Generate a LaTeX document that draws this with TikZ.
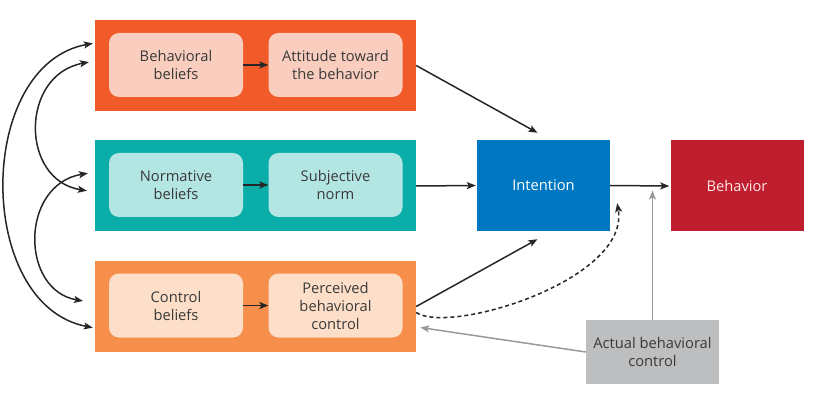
\documentclass[tikz,border=0pt]{standalone}
\usepackage{fontspec}
\setmainfont{Open Sans}
\usetikzlibrary{arrows.meta}

\definecolor{attouter}{HTML}{F15A29}
\definecolor{attinner}{HTML}{F9CEBF}
\definecolor{normouter}{HTML}{0AADA8}
\definecolor{norminner}{HTML}{B3E5E3}
\definecolor{ctrlouter}{HTML}{F68F4B}
\definecolor{ctrlinner}{HTML}{FDDEC8}
\definecolor{intentblue}{HTML}{0077C1}
\definecolor{behavred}{HTML}{BE1E2D}
\definecolor{actualgray}{HTML}{BCBEC0}
\definecolor{txtgray}{HTML}{3A3A3A}

\begin{document}
\begin{tikzpicture}[x=1pt, y=-1pt, >={Stealth[length=9pt,width=7pt,inset=2pt]}, font=\fontsize{14.7}{18}\selectfont]
        \tikzstyle{every node}=[inner sep=0pt, align=center, text=txtgray]
        \tikzstyle{outer}=[rectangle, minimum width=321pt, minimum height=91pt]
        \tikzstyle{inner}=[rectangle, rounded corners=10pt, minimum width=134pt, minimum height=64pt]
        \tikzstyle{target}=[rectangle, minimum width=133pt, minimum height=91pt, text=white]
        \tikzstyle{link}=[->, line width=1.5pt, draw=black!85]
        \tikzstyle{graylink}=[->, line width=1.5pt, draw=black!40]

        \useasboundingbox (0,0) rectangle (830,406);

% the three belief rows
        \node[outer, fill=attouter] (att) at (255.5,65.5) {};
        \node[inner, fill=attinner] (bbel) at (176,65) {Behavioral\\beliefs};
        \node[inner, fill=attinner] (attit) at (335.5,65) {Attitude toward\\the behavior};

        \node[outer, fill=normouter] (norm) at (255.5,186) {};
        \node[inner, fill=norminner] (nbel) at (176,185) {Normative\\beliefs};
        \node[inner, fill=norminner] (subj) at (335.5,185) {Subjective\\norm};

        \node[outer, fill=ctrlouter] (ctrl) at (255.5,306.5) {};
        \node[inner, fill=ctrlinner] (cbel) at (176,305.5) {Control\\beliefs};
        \node[inner, fill=ctrlinner] (pbc) at (335.5,305.5) {Perceived\\behavioral\\control};

% right hand side
        \node[target, fill=intentblue] (intent) at (543.5,185.5) {Intention};
        \node[target, fill=behavred, text=red!10] (behav) at (737,186) {Behavior};
        \node[rectangle, fill=actualgray, minimum width=133pt, minimum height=64pt] (actual) at (652.5,352) {Actual behavioral\\control};

        \draw[link] (bbel) -- (attit);
        \draw[link] (nbel) -- (subj);
        \draw[link] (cbel) -- (pbc);

        \draw[link] (att.east) -- ([xshift=-6pt,yshift=7pt]intent.north);
        \draw[link] (norm.east) -- ([xshift=-1pt]intent.west);
        \draw[link] (ctrl.east) -- ([xshift=-6pt,yshift=-8pt]intent.south);
        \draw[link] (intent.east) -- ([xshift=-1pt]behav.west);
        \draw[link, dash pattern=on 4pt off 3pt] ([yshift=-6pt]ctrl.east) .. controls (450,335) and (630,280) .. ([xshift=7pt,yshift=28pt]intent.south east);

        \coordinate (gtip) at (actual.north |- intent.east);
        \draw[graylink] (actual.north) -- ([yshift=-5pt]gtip);
        \draw[graylink] (actual.west) -- ([xshift=4pt,yshift=-21pt]ctrl.east);

% correlations between the belief rows
        \draw[link, <->, shorten <=2pt, shorten >=2pt] ([yshift=22.5pt]att.west) .. controls (-25,65) and (-25,305) .. ([yshift=-21.5pt]ctrl.west);
        \draw[link, <->, shorten <=6pt, shorten >=8pt] ([yshift=4.5pt]att.west) .. controls (20,75) and (20,180) .. ([yshift=-6pt]norm.west);
        \draw[link, <->, shorten <=7pt, shorten >=12pt] ([yshift=14pt]norm.west) .. controls (20,185) and (20,290) .. ([yshift=3.5pt]ctrl.west);

    \end{tikzpicture}
\end{document}
